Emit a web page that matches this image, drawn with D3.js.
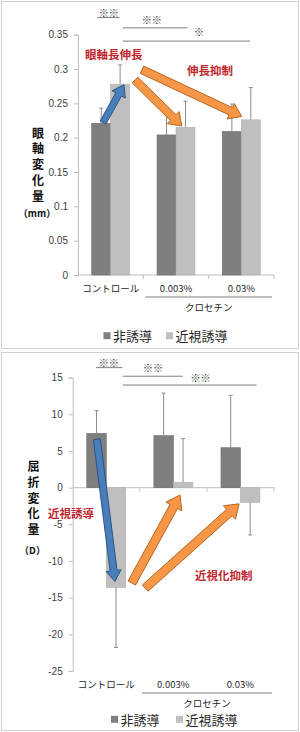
<!DOCTYPE html>
<html>
<head>
<meta charset="utf-8">
<script src="https://cdn.jsdelivr.net/npm/d3@7"></script>
<style>
  body { margin: 0; background: #fff; }
  svg { display: block; }
</style>
</head>
<body>
<div id="chartContainer"></div>
<script>
// categories and series
var categories = ["コントロール", "0.003%", "0.03%"];
var seriesNames = ["非誘導", "近視誘導"];
var groupLabel = "クロセチン";

// top: axial length change (mm)
var axialNon = [0.221, 0.204, 0.209];
var axialInd = [0.278, 0.215, 0.226];
var axialNonErr = [0.022, 0.030, 0.040];
var axialIndErr = [0.028, 0.038, 0.047];
var axialTicks = [0, 0.05, 0.1, 0.15, 0.2, 0.25, 0.3, 0.35];
var axialTickLabels = ["0", "0.05", "0.1", "0.15", "0.2", "0.25", "0.3", "0.35"];

// bottom: refraction change (D)
var refrNon = [7.4, 7.1, 5.45];
var refrInd = [-13.6, 0.74, -2.0];
var refrNonErr = [3.1, 5.8, 7.15];
var refrIndErr = [8.2, 5.95, 4.45];
var refrTicks = [15, 10, 5, 0, -5, -10, -15, -20, -25];
var refrTickLabels = ["15", "10", "5", "0", "-5", "-10", "-15", "-20", "-25"];

var colors = ["#7f7f7f", "#bfbfbf"];

var svg = d3.select("#chartContainer").append("svg")
  .attr("width", 300).attr("height", 732);

function drawPanel(o) {
  var g = svg.append("g");
  g.append("rect")
    .attr("x", o.box[0] + 0.5).attr("y", o.box[1] + 0.5)
    .attr("width", o.box[2]).attr("height", o.box[3])
    .attr("fill", "#fff").attr("stroke", "#d0d0d0");

  var x = d3.scaleBand().domain(categories).range(o.xRange).paddingInner(0).paddingOuter(0);
  var y = d3.scaleLinear().domain(o.yDomain).range(o.yRange);
  var bw = x.bandwidth();
  var barW = bw * 0.29;
  var off = (bw - 2 * barW) / 2;
  var px = function (c, f) { return x(categories[c]) + f * bw; };

  // y axis
  var yAxis = d3.axisLeft(y).tickValues(o.ticks)
    .tickFormat(function (d, i) { return o.tickLabels[i]; })
    .tickSize(4).tickPadding(6);
  var ya = g.append("g").attr("transform", "translate(" + o.xRange[0] + ",0)").call(yAxis);
  ya.select(".domain").attr("stroke", "#bfbfbf");
  ya.selectAll(".tick line").attr("stroke", "#bfbfbf");
  ya.selectAll(".tick text").attr("fill", "#404040")
    .style("font-family", "'Liberation Sans', Arial, sans-serif").style("font-size", "10px");

  // x axis line at zero
  var y0 = y(0);
  g.append("line").attr("x1", o.xRange[0]).attr("x2", o.xRange[1])
    .attr("y1", y0).attr("y2", y0).attr("stroke", "#bfbfbf");
  g.selectAll(".xt").data(categories.slice(1).concat(["end"])).enter().append("line")
    .attr("x1", function (d) { return d === "end" ? o.xRange[1] : x(d); })
    .attr("x2", function (d) { return d === "end" ? o.xRange[1] : x(d); })
    .attr("y1", y0).attr("y2", y0 + 4).attr("stroke", "#bfbfbf");

  // bars
  var series = [o.non, o.ind];
  var errs = [o.nonErr, o.indErr];
  series.forEach(function (vals, s) {
    g.selectAll(".bar" + s).data(vals).enter().append("rect")
      .attr("x", function (d, i) { return x(categories[i]) + off + s * barW; })
      .attr("y", function (d) { return y(Math.max(0, d)); })
      .attr("width", barW)
      .attr("height", function (d) { return Math.abs(y(d) - y(0)); })
      .attr("fill", colors[s]).attr("stroke", s === 0 ? "#6a6a6a" : "#b0b0b0").attr("stroke-width", 0.6);
  });
  // error bars
  series.forEach(function (vals, s) {
    vals.forEach(function (d, i) {
      var cx = x(categories[i]) + off + s * barW + barW / 2;
      var e = d >= 0 ? d + errs[s][i] : d - errs[s][i];
      g.append("line").attr("x1", cx).attr("x2", cx).attr("y1", y(d)).attr("y2", y(e))
        .attr("stroke", "#8c8c8c").attr("stroke-width", 1);
      g.append("line").attr("x1", cx - 2).attr("x2", cx + 2).attr("y1", y(e)).attr("y2", y(e))
        .attr("stroke", "#8c8c8c").attr("stroke-width", 1);
    });
  });

  // category labels
  g.selectAll(".cl").data(categories).enter().append("text")
    .attr("x", function (d) { return x(d) + bw / 2; })
    .attr("y", o.catY)
    .attr("text-anchor", "middle").attr("dominant-baseline", "central")
    .style("font-family", "'Noto Sans CJK JP', sans-serif").style("font-size", "9.5px")
    .attr("fill", "#262626").text(function (d) { return d; });
  g.append("line").attr("x1", x(categories[1]) + 2).attr("x2", o.xRange[1] - 2)
    .attr("y1", o.catY + 9).attr("y2", o.catY + 9).attr("stroke", "#7f7f7f").attr("stroke-width", 1.2);
  g.append("text").attr("x", x(categories[2])).attr("y", o.catY + 19)
    .attr("text-anchor", "middle").attr("dominant-baseline", "central")
    .style("font-family", "'Noto Sans CJK JP', sans-serif").style("font-size", "9.5px")
    .attr("fill", "#262626").text(groupLabel);

  // legend
  var lg = g.append("g");
  seriesNames.forEach(function (n, s) {
    lg.append("rect").attr("x", o.legX[s]).attr("y", o.legY - 3.5).attr("width", 7).attr("height", 7)
      .attr("fill", colors[s]);
    lg.append("text").attr("x", o.legX[s] + 9.5).attr("y", o.legY).attr("dominant-baseline", "central")
      .style("font-family", "'Noto Sans CJK JP', sans-serif").style("font-size", "13px")
      .attr("fill", "#262626").text(n);
  });

  // y label, vertical
  o.yLabel.forEach(function (ch, i) {
    g.append("text").attr("x", o.yLabelX).attr("y", o.yLabelY + i * o.yLabelStep)
      .attr("text-anchor", "middle").attr("dominant-baseline", "central")
      .style("font-family", "'Noto Sans CJK JP', sans-serif").style("font-size", "12px")
      .style("font-weight", "bold").attr("fill", "#111").text(ch);
  });
  g.append("text").attr("x", o.yLabelX - 1).attr("y", o.unitY)
    .attr("text-anchor", "middle").attr("dominant-baseline", "central")
    .style("font-family", "'Noto Sans CJK JP', sans-serif").style("font-size", "9.5px")
    .style("font-weight", "bold").attr("fill", "#111").text(o.unit);

  // significance brackets
  o.brackets.forEach(function (b) {
    g.append("line").attr("x1", px(b.from[0], b.from[1])).attr("x2", px(b.to[0], b.to[1]))
      .attr("y1", y(b.y)).attr("y2", y(b.y)).attr("stroke", "#7f7f7f").attr("stroke-width", 1);
    g.append("text").attr("x", px(b.star[0], b.star[1])).attr("y", y(b.y) + b.dy)
      .attr("text-anchor", "middle").attr("dominant-baseline", "central")
      .style("font-family", "'Noto Sans CJK JP', sans-serif").style("font-size", "10.5px")
      .style("letter-spacing", "-0.5px")
      .attr("fill", "#404040").text(b.text);
  });

  // arrows
  o.arrows.forEach(function (a) {
    var x1 = px(a.from[0], a.from[1]), y1 = y(a.from[2]);
    var x2 = px(a.to[0], a.to[1]), y2 = y(a.to[2]);
    var dx = x2 - x1, dy = y2 - y1, L = Math.sqrt(dx * dx + dy * dy);
    var ux = dx / L, uy = dy / L, nx = -uy, ny = ux;
    var hl = a.head, sw = a.shaft / 2, hw = a.headW / 2;
    var bx = x2 - ux * hl, by = y2 - uy * hl;
    var pts = [
      [x1 + nx * sw, y1 + ny * sw], [bx + nx * sw, by + ny * sw], [bx + nx * hw, by + ny * hw],
      [x2, y2], [bx - nx * hw, by - ny * hw], [bx - nx * sw, by - ny * sw], [x1 - nx * sw, y1 - ny * sw]
    ];
    g.append("polygon").attr("points", pts.map(function (p) { return p.join(","); }).join(" "))
      .attr("fill", a.fill).attr("stroke", a.stroke).attr("stroke-width", 1);
  });

  // red notes
  o.notes.forEach(function (n) {
    g.append("text").attr("x", n.x).attr("y", n.y).attr("dominant-baseline", "central")
      .style("font-family", "'Noto Sans CJK JP', sans-serif").style("font-size", "11.5px")
      .style("font-weight", "bold").attr("fill", "#c0262d").text(n.text);
  });
}

var blue = { fill: "#4a7ebb", stroke: "#2c5486" };
var orange = { fill: "#f79646", stroke: "#b7661f" };

drawPanel({
  box: [1, 1, 297, 347],
  xRange: [78, 274], yDomain: [0, 0.35], yRange: [275, 34.7],
  ticks: axialTicks, tickLabels: axialTickLabels,
  non: axialNon, ind: axialInd, nonErr: axialNonErr, indErr: axialIndErr,
  catY: 288, legX: [103.5, 166], legY: 335.7,
  yLabel: ["眼", "軸", "変", "化", "量"], yLabelX: 38, yLabelY: 132, yLabelStep: 15.8,
  unit: "（mm）", unitY: 213,
  brackets: [
    { from: [0, 0.295], to: [0, 0.632], y: 0.375, star: [0, 0.467], dy: -5.5, text: "※※" },
    { from: [0, 0.684], to: [1, 0.675], y: 0.360, star: [1, 0.126], dy: -8, text: "※※" },
    { from: [0, 0.684], to: [2, 0.634], y: 0.3407, star: [1, 0.85], dy: -9.7, text: "※" }
  ],
  arrows: [
    Object.assign({ from: [0, 0.383, 0.222], to: [0, 0.704, 0.277], shaft: 6.5, headW: 15, head: 11 }, blue),
    Object.assign({ from: [0, 0.873, 0.284], to: [1, 0.588, 0.217], shaft: 8, headW: 17, head: 12 }, orange),
    Object.assign({ from: [0, 0.98, 0.299], to: [2, 0.505, 0.231], shaft: 8, headW: 17, head: 12 }, orange)
  ],
  notes: [{ x: 85, y: 53.5, text: "眼軸長伸長" }, { x: 187, y: 70, text: "伸長抑制" }]
});

drawPanel({
  box: [1, 352, 297, 378],
  xRange: [72.7, 274], yDomain: [15, -25], yRange: [377.7, 671],
  ticks: refrTicks, tickLabels: refrTickLabels,
  non: refrNon, ind: refrInd, nonErr: refrNonErr, indErr: refrIndErr,
  catY: 684, legX: [111, 176], legY: 719.3,
  yLabel: ["屈", "折", "変", "化", "量"], yLabelX: 33.5, yLabelY: 465.5, yLabelStep: 15.8,
  unit: "（D）", unitY: 550,
  brackets: [
    { from: [0, 0.347], to: [0, 0.74], y: 16.37, star: [0, 0.533], dy: -5.5, text: "※※" },
    { from: [0, 0.745], to: [1, 0.64], y: 15.2, star: [1, 0.194], dy: -9, text: "※※" },
    { from: [0, 0.745], to: [2, 0.74], y: 14.0, star: [1, 0.9], dy: -7.7, text: "※※" }
  ],
  arrows: [
    Object.assign({ from: [0, 0.36, 6.6], to: [0, 0.63, -12.8], shaft: 7, headW: 15, head: 11 }, blue),
    Object.assign({ from: [0, 0.88, -13.0], to: [1, 0.6, -1.0], shaft: 8.5, headW: 18, head: 13 }, orange),
    Object.assign({ from: [1, 0.08, -13.7], to: [2, 0.48, -2.2], shaft: 8.5, headW: 18, head: 13 }, orange)
  ],
  notes: [{ x: 48, y: 512.5, text: "近視誘導" }, { x: 195, y: 575, text: "近視化抑制" }]
});
</script>
</body>
</html>
